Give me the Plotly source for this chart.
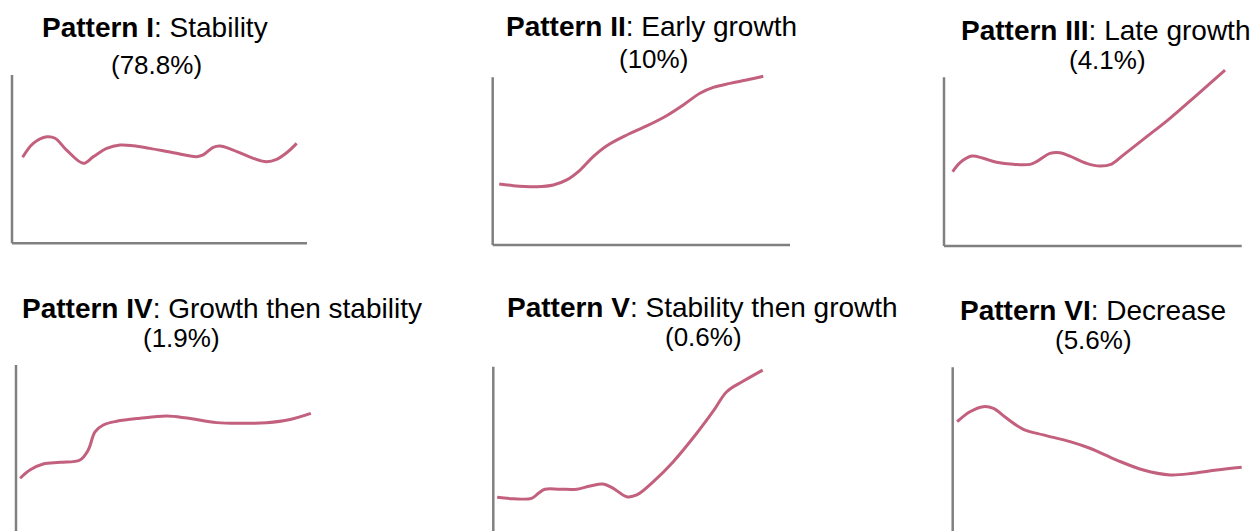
import plotly.graph_objects as go

# ---------------- data ----------------
pattern_names = ["Pattern I", "Pattern II", "Pattern III", "Pattern IV", "Pattern V", "Pattern VI"]
pattern_labels = ["Stability", "Early growth", "Late growth",
                  "Growth then stability", "Stability then growth", "Decrease"]
pattern_shares = ["(78.8%)", "(10%)", "(4.1%)", "(1.9%)", "(0.6%)", "(5.6%)"]

p1_x = [3.6, 7.2, 11.8, 14.6, 18.5, 24.2, 27.6, 32.1, 36.6, 41.1, 46.8, 54.7, 62.6, 64.8, 68.2, 70.5, 75.0, 81.8, 86.3, 89.7, 93.1, 96.5]
p1_y = [51.1, 59.4, 63.3, 62.4, 55.4, 47.5, 51.5, 56.4, 58.4, 58.0, 56.4, 53.8, 51.5, 52.5, 57.0, 57.8, 55.4, 50.5, 48.5, 49.9, 53.8, 59.4]

p2_x = [2.2, 6.9, 14.8, 20.4, 24.9, 29.4, 33.8, 38.4, 45.1, 51.8, 58.5, 64.1, 69.7, 74.2, 79.8, 85.4, 91.0]
p2_y = [36.4, 35.4, 34.8, 35.8, 38.8, 44.7, 52.7, 59.2, 65.6, 71.0, 77.1, 83.5, 90.5, 94.0, 96.4, 98.4, 100.6]

p3_x = [2.9, 5.4, 9.3, 13.2, 17.7, 23.3, 28.9, 31.1, 35.6, 39.0, 42.3, 47.9, 52.4, 56.3, 60.2, 68.1, 75.9, 84.9, 94.4]
p3_y = [44.0, 49.4, 53.3, 52.0, 49.6, 48.4, 48.4, 50.0, 54.9, 55.3, 53.3, 49.0, 47.4, 48.6, 53.9, 64.8, 75.7, 89.5, 104.3]

p4_x = [1.4, 4.7, 9.2, 14.9, 21.6, 24.4, 26.7, 29.5, 34.0, 41.9, 50.9, 57.7, 67.8, 75.7, 84.7, 92.6, 99.6]
p4_y = [33.0, 37.9, 41.4, 42.4, 43.8, 49.7, 60.5, 64.5, 66.7, 68.5, 69.8, 68.6, 65.9, 65.5, 65.9, 67.8, 71.4]

p5_x = [1.3, 6.7, 12.9, 15.2, 17.4, 22.5, 28.1, 32.6, 37.0, 40.4, 44.9, 48.3, 53.9, 60.6, 68.5, 74.1, 78.6, 84.2, 90.7]
p5_y = [22.7, 21.9, 22.1, 25.1, 27.5, 27.5, 27.5, 29.4, 30.6, 28.0, 23.1, 24.1, 32.0, 43.8, 60.6, 73.8, 85.2, 91.5, 98.0]

p6_x = [1.5, 5.8, 10.3, 13.7, 18.2, 23.8, 30.5, 39.5, 46.2, 55.2, 64.2, 73.2, 81.0, 88.9, 97.3]
p6_y = [67.8, 73.7, 76.7, 75.7, 69.8, 63.3, 60.0, 56.0, 52.1, 45.1, 39.2, 36.3, 37.3, 39.2, 40.8]

series_x = [p1_x, p2_x, p3_x, p4_x, p5_x, p6_x]
series_y = [p1_y, p2_y, p3_y, p4_y, p5_y, p6_y]

# ---------------- layout geometry (pixels) ----------------
W_FIG, H_FIG = 1258, 531
# axis box per panel: left, right, top, bottom (pixels)
boxes = [
    (12.0, 307.0, 75.0, 243.3),
    (492.7, 790.0, 77.3, 245.0),
    (944.0, 1241.7, 77.3, 246.0),
    (16.0, 312.0, 365.0, 534.0),
    (493.3, 790.3, 366.7, 535.7),
    (952.7, 1249.7, 367.3, 536.3),
]
title_pos = [(155, 28), (651, 27), (1105, 30), (222, 308), (702, 307), (1093, 310)]
share_pos = [(156, 65), (653, 59), (1107, 60), (181, 338), (703, 337), (1093, 340)]

LINE_COLOR = "#c2607e"
AXIS_COLOR = "#808080"
FONT = "Liberation Sans, Arial, sans-serif"

fig = go.Figure()
layout = dict(
    width=W_FIG, height=H_FIG,
    margin=dict(l=0, r=0, t=0, b=0),
    paper_bgcolor="white", plot_bgcolor="rgba(0,0,0,0)",
    showlegend=False,
)
shapes = []
annotations = []

PAD = 5   # extra pixels around the axis box so lines are not clipped
TOP_EXTRA = 16

for i in range(6):
    k = "" if i == 0 else str(i + 1)
    L, R, T, B = boxes[i]
    Wpx, Hpx = R - L, B - T
    dl, dr = L - PAD, R + PAD
    dt = T - TOP_EXTRA
    db = min(B + PAD, H_FIG)
    x_range = [(dl - L) / Wpx * 100, (dr - L) / Wpx * 100]
    y_range = [(B - db) / Hpx * 100, (B - dt) / Hpx * 100]
    layout["xaxis" + k] = dict(domain=[dl / W_FIG, min(dr / W_FIG, 1)], range=x_range,
                               visible=False, fixedrange=True)
    layout["yaxis" + k] = dict(domain=[1 - db / H_FIG, 1 - dt / H_FIG], range=y_range,
                               visible=False, fixedrange=True)
    fig.add_trace(go.Scatter(
        x=series_x[i], y=series_y[i], mode="lines",
        line=dict(color=LINE_COLOR, width=3, shape="spline", smoothing=1.0),
        xaxis="x" + k, yaxis="y" + k, hoverinfo="skip",
    ))
    # axis lines (frame decoration)
    shapes.append(dict(type="line", xref="x" + k, yref="y" + k, x0=0, x1=0, y0=0, y1=100,
                       line=dict(color=AXIS_COLOR, width=2.5), layer="below"))
    shapes.append(dict(type="line", xref="x" + k, yref="y" + k, x0=0, x1=100, y0=0, y1=0,
                       line=dict(color=AXIS_COLOR, width=2.5), layer="below"))
    tx, ty = title_pos[i]
    annotations.append(dict(
        text=f"<b>{pattern_names[i]}</b>: {pattern_labels[i]}",
        x=tx / W_FIG, y=1 - ty / H_FIG, xref="paper", yref="paper",
        xanchor="center", yanchor="middle", showarrow=False,
        font=dict(family=FONT, size=28, color="black"),
    ))
    sx, sy = share_pos[i]
    annotations.append(dict(
        text=pattern_shares[i],
        x=sx / W_FIG, y=1 - sy / H_FIG, xref="paper", yref="paper",
        xanchor="center", yanchor="middle", showarrow=False,
        font=dict(family=FONT, size=26, color="black"),
    ))

layout["shapes"] = shapes
layout["annotations"] = annotations
fig.update_layout(**layout)
fig.write_html("out.html",
               config={"displayModeBar": False},
               post_script="document.body.style.margin='0';document.body.style.overflow='hidden';")
